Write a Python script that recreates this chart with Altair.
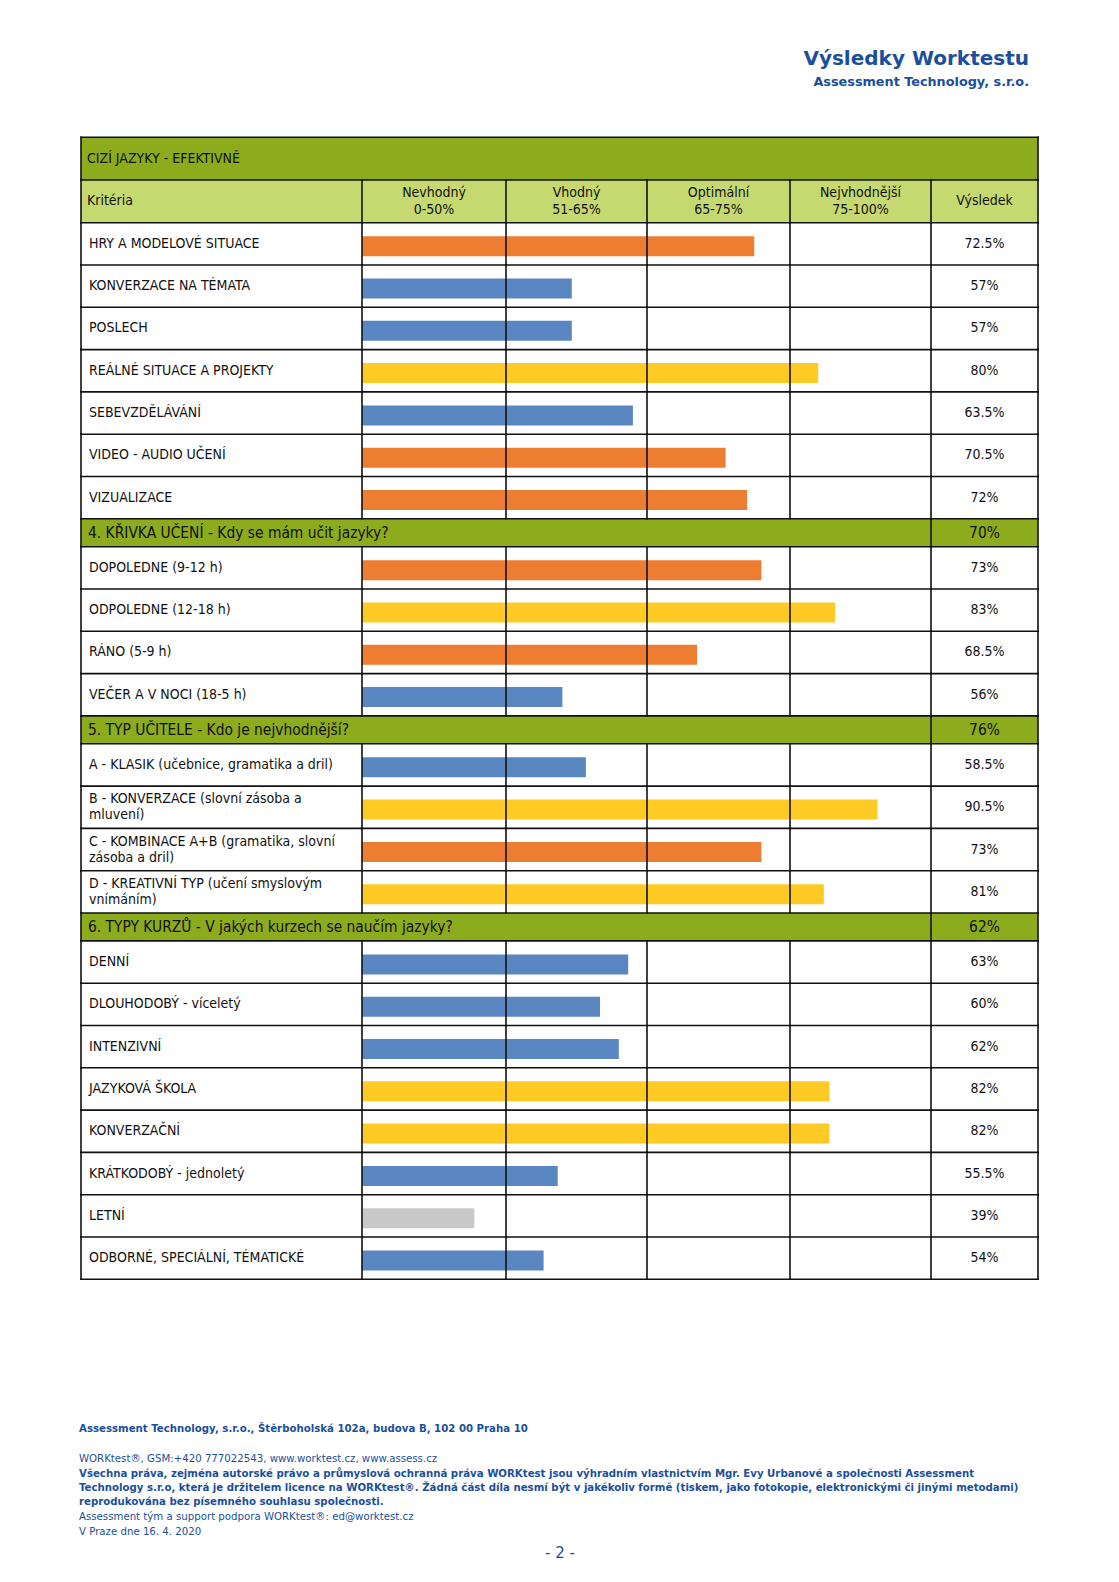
import altair as alt
import pandas as pd

FONT = "DejaVu Sans"
FONT_C = "DejaVu Sans Condensed"

# ---------------- data ----------------
PAGE_TITLE = "Výsledky Worktestu"
PAGE_SUBTITLE = "Assessment Technology, s.r.o."

TABLE_TITLE = "CIZÍ JAZYKY - EFEKTIVNĚ"
HEADER_FIRST = "Kritéria"
BAND_NAMES = ["Nevhodný", "Vhodný", "Optimální", "Nejvhodnější"]
BAND_RANGES = ["0-50%", "51-65%", "65-75%", "75-100%"]
HEADER_LAST = "Výsledek"
BAND_EDGES = [0, 50, 65, 75, 100]

GROUP1_LABELS = ["HRY A MODELOVÉ SITUACE", "KONVERZACE NA TÉMATA", "POSLECH",
                 "REÁLNÉ SITUACE A PROJEKTY", "SEBEVZDĚLÁVÁNÍ",
                 "VIDEO - AUDIO UČENÍ", "VIZUALIZACE"]
GROUP1_VALUES = [72.5, 57, 57, 80, 63.5, 70.5, 72]

GROUP2_TITLE = "4. KŘIVKA UČENÍ - Kdy se mám učit jazyky?"
GROUP2_RESULT = 70
GROUP2_LABELS = ["DOPOLEDNE (9-12 h)", "ODPOLEDNE (12-18 h)", "RÁNO (5-9 h)",
                 "VEČER A V NOCI (18-5 h)"]
GROUP2_VALUES = [73, 83, 68.5, 56]

GROUP3_TITLE = "5. TYP UČITELE - Kdo je nejvhodnější?"
GROUP3_RESULT = 76
GROUP3_LABELS = ["A - KLASIK (učebnice, gramatika a dril)",
                 "B - KONVERZACE (slovní zásoba a\nmluvení)",
                 "C - KOMBINACE A+B (gramatika, slovní\nzásoba a dril)",
                 "D - KREATIVNÍ TYP (učení smyslovým\nvnímáním)"]
GROUP3_VALUES = [58.5, 90.5, 73, 81]

GROUP4_TITLE = "6. TYPY KURZŮ - V jakých kurzech se naučím jazyky?"
GROUP4_RESULT = 62
GROUP4_LABELS = ["DENNÍ", "DLOUHODOBÝ - víceletý", "INTENZIVNÍ", "JAZYKOVÁ ŠKOLA",
                 "KONVERZAČNÍ", "KRÁTKODOBÝ - jednoletý", "LETNÍ",
                 "ODBORNÉ, SPECIÁLNÍ, TÉMATICKÉ"]
GROUP4_VALUES = [63, 60, 62, 82, 82, 55.5, 39, 54]

COLOR_THRESHOLDS = [50, 65, 75]
BAR_COLORS = ["#c8c8c8", "#5a86c1", "#ed7d31", "#ffca24"]

FOOTER_ADDRESS = "Assessment Technology, s.r.o., Štěrboholská 102a, budova B, 102 00 Praha 10"
FOOTER_CONTACT = "WORKtest®, GSM:+420 777022543, www.worktest.cz, www.assess.cz"
FOOTER_RIGHTS = [
    "Všechna práva, zejména autorské právo a průmyslová ochranná práva WORKtest jsou výhradním vlastnictvím Mgr. Evy Urbanové a společnosti Assessment",
    "Technology s.r.o, která je držitelem licence na WORKtest®. Žádná část díla nesmí být v jakékoliv formě (tiskem, jako fotokopie, elektronickými či jinými metodami)",
    "reprodukována bez písemného souhlasu společnosti.",
]
FOOTER_SUPPORT = "Assessment tým a support podpora WORKtest®: ed@worktest.cz"
FOOTER_DATE = "V Praze dne 16. 4. 2020"
PAGE_NUMBER = "- 2 -"

# ---------------- layout ----------------
W, H = 1103, 1566
COLS = [73, 354, 498, 639, 782, 923, 1030]
TITLE_TOP = 129.3
TITLE_H = 42.7
HEADER_H = 42.7
ROW_H = 42.3
SEC_H = 27.9
DARK_GREEN = "#8cab1d"
LIGHT_GREEN = "#c6d970"
BLUE_TEXT = "#1b4f9c"
TEXT = "#111111"
ROW_FS = 14
SEC_FS = 15.4
ROW_LH = 16
HDR_LH = 17
FOOT_FS = 10.2


def pct(v):
    return f"{v:g}%"


rows = []
y = TITLE_TOP
rows.append(dict(kind="title", top=y, bottom=y + TITLE_H, label=TABLE_TITLE, result=""))
y += TITLE_H
rows.append(dict(kind="header", top=y, bottom=y + HEADER_H, label=HEADER_FIRST, result=HEADER_LAST))
y += HEADER_H
groups = [
    (None, None, GROUP1_LABELS, GROUP1_VALUES),
    (GROUP2_TITLE, GROUP2_RESULT, GROUP2_LABELS, GROUP2_VALUES),
    (GROUP3_TITLE, GROUP3_RESULT, GROUP3_LABELS, GROUP3_VALUES),
    (GROUP4_TITLE, GROUP4_RESULT, GROUP4_LABELS, GROUP4_VALUES),
]
for title, res, labels, values in groups:
    if title is not None:
        rows.append(dict(kind="section", top=y, bottom=y + SEC_H, label=title, result=pct(res)))
        y += SEC_H
    for lab, val in zip(labels, values):
        rows.append(dict(kind="row", top=y, bottom=y + ROW_H, label=lab, result=pct(val), value=val))
        y += ROW_H

rows_df = pd.DataFrame(rows)
rows_df["mid"] = (rows_df["top"] + rows_df["bottom"]) / 2
rows_df["nlines"] = rows_df["label"].str.count("\n") + 1
rows_df["ty"] = rows_df["mid"] - (rows_df["nlines"] - 1) * ROW_LH / 2

# fills
fill_rows = rows_df[rows_df["kind"].isin(["title", "header", "section"])].copy()
fill_rows["fill"] = fill_rows["kind"].map({"title": DARK_GREEN, "header": LIGHT_GREEN, "section": DARK_GREEN})
fill_rows["x1"] = COLS[0]
fill_rows["x2"] = COLS[-1]

fills = alt.Chart(fill_rows).mark_rect().encode(
    x=alt.X("x1:Q", scale=None, axis=None), x2="x2:Q",
    y=alt.Y("top:Q", scale=None, axis=None), y2="bottom:Q",
    color=alt.Color("fill:N", scale=None),
)

# bars
bar_df = rows_df[rows_df["kind"] == "row"].copy()
bar_df["start"] = 0
bar_df["btop"] = bar_df["top"] + 13.5
bar_df["bbot"] = bar_df["top"] + 33.5
bars = alt.Chart(bar_df).mark_rect().encode(
    x=alt.X("start:Q", scale=alt.Scale(domain=BAND_EDGES, range=COLS[1:6], nice=False, zero=False), axis=None),
    x2="value:Q",
    y=alt.Y("btop:Q", scale=None, axis=None), y2="bbot:Q",
    color=alt.Color("value:Q", scale=alt.Scale(type="threshold", domain=COLOR_THRESHOLDS, range=BAR_COLORS), legend=None),
)

# grid lines
hl = [dict(y=t, x1=COLS[0], x2=COLS[-1]) for t in list(rows_df["top"]) + [rows_df["bottom"].iloc[-1]]]
hlines = alt.Chart(pd.DataFrame(hl)).mark_rule(color=TEXT, strokeWidth=1.6, strokeCap="square").encode(
    y=alt.Y("y:Q", scale=None, axis=None),
    x=alt.X("x1:Q", scale=None, axis=None), x2="x2:Q",
)
vl = []
for r in rows:
    if r["kind"] == "title":
        cs = [COLS[0], COLS[-1]]
    elif r["kind"] == "section":
        cs = [COLS[0], COLS[5], COLS[-1]]
    else:
        cs = COLS
    for c in cs:
        vl.append(dict(x=c, y1=r["top"], y2=r["bottom"]))
vlines = alt.Chart(pd.DataFrame(vl)).mark_rule(color=TEXT, strokeWidth=1.6, strokeCap="square").encode(
    x=alt.X("x:Q", scale=None, axis=None),
    y=alt.Y("y1:Q", scale=None, axis=None), y2="y2:Q",
)

# texts in table
title_df = rows_df[rows_df["kind"].isin(["title", "header"])]
title_txt = alt.Chart(title_df).mark_text(align="left", baseline="middle", font=FONT_C, fontSize=ROW_FS, color=TEXT).encode(
    x=alt.value(COLS[0] + 6), y=alt.Y("mid:Q", scale=None, axis=None), text="label:N")

hdr_top = rows_df[rows_df["kind"] == "header"].iloc[0]
hdr_df = pd.DataFrame({
    "txt": [f"{n}\n{r}" for n, r in zip(BAND_NAMES, BAND_RANGES)] + [HEADER_LAST],
    "cx": [(COLS[i] + COLS[i + 1]) / 2 for i in range(1, 6)],
    "nl": [2, 2, 2, 2, 1],
})
hdr_df["ty"] = hdr_top["mid"] - (hdr_df["nl"] - 1) * HDR_LH / 2
hdr_txt = alt.Chart(hdr_df).mark_text(align="center", baseline="middle", font=FONT_C, fontSize=ROW_FS, color=TEXT,
                                      lineBreak="\n", lineHeight=HDR_LH).encode(
    x=alt.X("cx:Q", scale=None, axis=None), y=alt.Y("ty:Q", scale=None, axis=None), text="txt:N")

row_df = rows_df[rows_df["kind"] == "row"]
row_lbl = alt.Chart(row_df).mark_text(align="left", baseline="middle", font=FONT_C, fontSize=ROW_FS, color=TEXT,
                                      lineBreak="\n", lineHeight=ROW_LH).encode(
    x=alt.value(COLS[0] + 8), y=alt.Y("ty:Q", scale=None, axis=None), text="label:N")
row_res = alt.Chart(row_df).mark_text(align="center", baseline="middle", font=FONT_C, fontSize=ROW_FS, color=TEXT).encode(
    x=alt.value((COLS[5] + COLS[6]) / 2), y=alt.Y("mid:Q", scale=None, axis=None), text="result:N")

sec_df = rows_df[rows_df["kind"] == "section"]
sec_lbl = alt.Chart(sec_df).mark_text(align="left", baseline="middle", font=FONT_C, fontSize=SEC_FS, color=TEXT).encode(
    x=alt.value(COLS[0] + 7), y=alt.Y("mid:Q", scale=None, axis=None), text="label:N")
sec_res = alt.Chart(sec_df).mark_text(align="center", baseline="middle", font=FONT_C, fontSize=SEC_FS, color=TEXT).encode(
    x=alt.value((COLS[5] + COLS[6]) / 2), y=alt.Y("mid:Q", scale=None, axis=None), text="result:N")

# page header
head_df = pd.DataFrame({"txt": [PAGE_TITLE, PAGE_SUBTITLE], "y": [57, 78], "size": [20, 12.8]})
head_txt = alt.Chart(head_df).mark_text(align="right", baseline="alphabetic", font=FONT, fontWeight="bold",
                                        color=BLUE_TEXT).encode(
    x=alt.value(1021), y=alt.Y("y:Q", scale=None, axis=None), text="txt:N",
    size=alt.Size("size:Q", scale=None, legend=None))

# footer
FX = 71
foot_bold = alt.Chart(pd.DataFrame({"txt": [FOOTER_ADDRESS] + FOOTER_RIGHTS,
                                    "y": [1421, 1466, 1480, 1494]})).mark_text(
    align="left", baseline="middle", font=FONT, fontWeight="bold", fontSize=FOOT_FS, color=BLUE_TEXT).encode(
    x=alt.value(FX), y=alt.Y("y:Q", scale=None, axis=None), text="txt:N")
foot_norm_df = pd.DataFrame({"txt": [FOOTER_CONTACT, FOOTER_SUPPORT, FOOTER_DATE],
                             "y": [1451, 1509, 1524]})
foot_norm = alt.Chart(foot_norm_df).mark_text(align="left", baseline="middle", font=FONT,
                                              fontSize=FOOT_FS, color=BLUE_TEXT).encode(
    x=alt.value(FX), y=alt.Y("y:Q", scale=None, axis=None), text="txt:N")
page_num = alt.Chart(pd.DataFrame({"txt": [PAGE_NUMBER], "y": [1545]})).mark_text(
    align="center", baseline="middle", font=FONT, fontSize=15, color=BLUE_TEXT).encode(
    x=alt.value(552), y=alt.Y("y:Q", scale=None, axis=None), text="txt:N")

chart = alt.layer(
    fills, bars, hlines, vlines, title_txt, hdr_txt, row_lbl, row_res, sec_lbl, sec_res,
    head_txt, foot_bold, foot_norm, page_num,
).resolve_scale(x="independent", y="independent", color="independent").properties(
    width=W, height=H, padding=0, autosize="none", background="white"
).configure_view(strokeWidth=0, stroke="transparent")

chart.save("out.html", embed_options={"renderer": "svg", "actions": False})
